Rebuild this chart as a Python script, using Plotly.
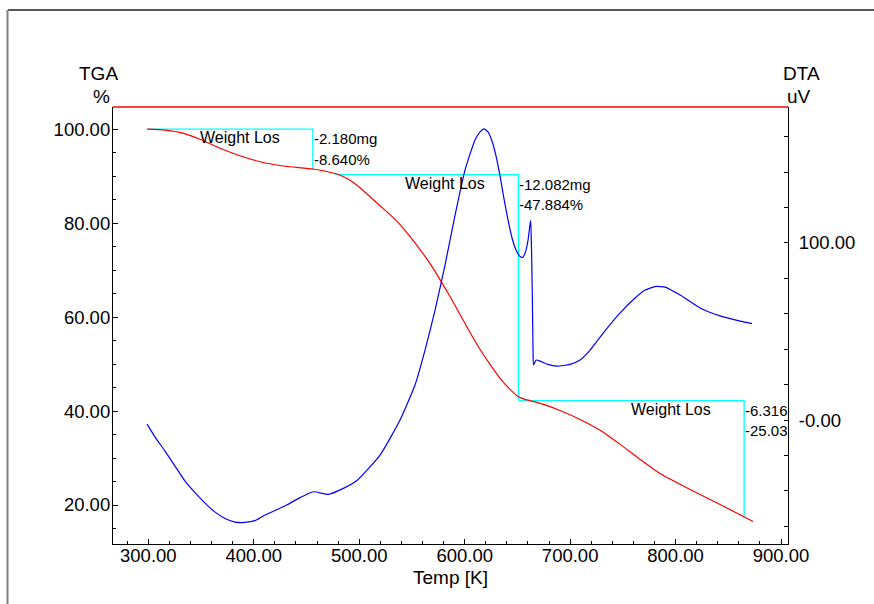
import plotly.graph_objects as go

# ---- data ----
tga_temp = [298.8, 315.8, 332.9, 349.0, 368.0, 386.9, 405.9, 429.6, 456.2, 475.1, 481.8, 491.3,
            500.7, 510.2, 519.7, 529.2, 538.7, 548.2, 557.7, 567.2, 576.6, 586.1, 595.6,
            605.1, 614.6, 624.1, 633.5, 643.0, 650.6, 657.2, 666.7, 676.2, 690.4, 709.4,
            728.4, 747.4, 766.4, 785.3, 813.7, 842.2, 873.5]
tga_pct = [100.0, 99.79, 99.15, 97.83, 95.92, 94.33, 93.05, 92.09, 91.50, 90.65, 90.18, 89.12,
           87.52, 85.61, 83.70, 81.79, 79.66, 77.11, 74.35, 71.37, 67.97, 64.36, 60.53,
           56.71, 53.10, 49.91, 46.94, 44.60, 43.11, 42.48, 41.93, 41.3, 40.1, 38.2,
           35.9, 32.9, 29.7, 26.7, 23.3, 20.1, 16.5]

dta_temp = [298.8, 306.4, 315.8, 325.3, 334.8, 344.3, 353.8, 363.3, 372.8, 382.2, 391.7, 401.2,
            409.1, 431.2, 443.9, 456.5,
            470.7, 484.9, 497.6, 519.7, 538.7, 552.9, 562.4, 571.9, 581.4, 590.9, 600.3,
            609.8, 614.6, 618.3, 622.1, 625.9, 629.7, 633.5, 637.3, 641.1, 644.9, 648.7,
            652.5, 654.9, 657.7, 660.1, 662.0, 662.6, 663.4, 664.2, 664.8, 665.3, 667.7,
            671.5, 679.0, 687.6, 699.9, 709.4, 718.9, 728.4, 747.4, 761.6, 771.1, 780.6,
            790.1, 804.3, 823.3, 842.2, 861.2, 872.5]
dta_uv = [-2.3, -9.6, -17.5, -26.0, -34.5, -41.0, -46.9, -52.0, -55.6, -57.6, -57.8, -56.8,
          -54.2, -48.0, -43.8, -40.5,
          -42.0, -38.6, -34.3, -19.8, 0.0, 19.8, 39.5, 62.1, 87.6, 115.8, 141.2,
          158.2, 162.8, 164.4, 162.7, 157.6, 149.2, 137.9, 124.9, 113.0, 102.8, 96.0,
          92.4, 91.9, 94.9, 101.7, 110.7, 112.6, 96.0, 67.8, 39.5, 31.1, 33.9,
          33.3, 31.4, 30.5, 31.4, 33.9, 39.5, 46.9, 60.5, 68.9, 73.4, 75.4,
          75.1, 70.6, 63.3, 58.8, 55.9, 54.5]

# weight-loss steps
step_start_temp = [300, 477, 651]
step_end_temp = [456, 651, 865]
step_start_level = [100.0, 90.3, 42.2]
step_loss_pct = [8.64, 47.88, 25.03]
step_mg_text = ["-2.180mg", "-12.082mg", "-6.316"]
step_pct_text = ["-8.640%", "-47.884%", "-25.03"]
step_label = "Weight Los"

x_ticks = [300, 400, 500, 600, 700, 800, 900]
left_ticks = [20, 40, 60, 80, 100]
right_tickvals = [-60, -40, -20, 0, 20, 40, 60, 80, 100, 120, 140, 160]
right_ticktext = ["", "", "", "-0.00", "", "", "", "", "100.00", "", "", ""]

FONT = "Liberation Sans, Arial, Helvetica, sans-serif"

fig = go.Figure()

# cyan step markers
for i in range(3):
    end_level = step_start_level[i] - step_loss_pct[i]
    fig.add_trace(go.Scatter(
        x=[step_start_temp[i], step_end_temp[i], step_end_temp[i]],
        y=[step_start_level[i], step_start_level[i], end_level],
        mode="lines", line=dict(color="#00ffff", width=1.3),
        hoverinfo="skip", showlegend=False, cliponaxis=False))

fig.add_trace(go.Scatter(x=tga_temp, y=tga_pct, mode="lines",
                         line=dict(color="#ff0000", width=1.2, shape="spline", smoothing=0.5),
                         showlegend=False))
fig.add_trace(go.Scatter(x=dta_temp, y=dta_uv, mode="lines", yaxis="y2",
                         line=dict(color="#0000ff", width=1.2, shape="spline", smoothing=0.5),
                         showlegend=False))

ann = []
for i in range(3):
    lvl = step_start_level[i]
    ann.append(dict(x=step_end_temp[i], y=lvl, xref="x", yref="y", text=step_label,
                    showarrow=False, xanchor="right", yanchor="middle", xshift=-31, yshift=-8.5,
                    font=dict(family=FONT, size=16, color="#000000")))
    ann.append(dict(x=step_end_temp[i], y=lvl, xref="x", yref="y", text=step_mg_text[i],
                    showarrow=False, xanchor="left", yanchor="middle", xshift=-1, yshift=-9.5,
                    font=dict(family=FONT, size=15, color="#000000")))
    ann.append(dict(x=step_end_temp[i], y=lvl, xref="x", yref="y", text=step_pct_text[i],
                    showarrow=False, xanchor="left", yanchor="middle", xshift=-1, yshift=-30,
                    font=dict(family=FONT, size=15, color="#000000")))

title_font = dict(family=FONT, size=19, color="#000000")
ann += [
    dict(x=-0.0222, y=1.0778, xref="paper", yref="paper", text="TGA", showarrow=False,
         xanchor="center", yanchor="middle", font=title_font),
    dict(x=-0.0163, y=1.0229, xref="paper", yref="paper", text="%", showarrow=False,
         xanchor="center", yanchor="middle", font=title_font),
    dict(x=1.0193, y=1.0778, xref="paper", yref="paper", text="DTA", showarrow=False,
         xanchor="center", yanchor="middle", font=title_font),
    dict(x=1.0159, y=1.0229, xref="paper", yref="paper", text="uV", showarrow=False,
         xanchor="center", yanchor="middle", font=title_font),
    dict(x=0.5, y=-0.0778, xref="paper", yref="paper", text="Temp [K]", showarrow=False,
         xanchor="center", yanchor="middle", font=title_font),
]

shapes = [
    # red top frame of plot area
    dict(type="line", xref="paper", yref="paper", x0=0, x1=1, y0=1, y1=1,
         line=dict(color="#ff0000", width=1.3)),
    # outer window border
    dict(type="line", xref="paper", yref="paper", x0=-0.1556, x1=1.13, y0=1.222, y1=1.222,
         line=dict(color="#222222", width=1.5)),
    dict(type="line", xref="paper", yref="paper", x0=-0.1563, x1=-0.1563, y0=1.222, y1=-0.14,
         line=dict(color="#808080", width=2)),
]

tickfont = dict(family=FONT, size=18.5, color="#000000")

fig.update_layout(
    width=874, height=604,
    margin=dict(l=113, r=86, t=107, b=60),
    paper_bgcolor="white", plot_bgcolor="white",
    showlegend=False,
    annotations=ann, shapes=shapes,
    xaxis=dict(range=[266.5, 906.6], tickvals=x_ticks, tickformat=".2f",
               ticks="inside", ticklen=5, tickcolor="#000000", tickwidth=1,
               ticklabelstandoff=-5,
               minor=dict(dtick=20, tick0=0, ticks="inside", ticklen=3, tickcolor="#000000"),
               showline=True, linecolor="#000000", linewidth=1.2, showgrid=False,
               zeroline=False, tickfont=tickfont),
    yaxis=dict(range=[11.7, 104.7], tickvals=left_ticks, tickformat=".2f",
               ticks="inside", ticklen=5, tickcolor="#000000", tickwidth=1,
               ticklabelstandoff=-2,
               minor=dict(dtick=5, tick0=0, ticks="inside", ticklen=3, tickcolor="#000000"),
               showline=True, linecolor="#000000", linewidth=1.2, showgrid=False,
               zeroline=False, tickfont=tickfont),
    yaxis2=dict(range=[-70, 176.8], overlaying="y", side="right",
                tickmode="array", tickvals=right_tickvals, ticktext=right_ticktext,
                ticks="inside", ticklen=4, tickcolor="#000000", tickwidth=1,
                ticklabelstandoff=6,
                showline=True, linecolor="#000000", linewidth=1.2, showgrid=False,
                zeroline=False, tickfont=tickfont),
)

fig.write_html("out.html", config={"displayModeBar": False},
               post_script="document.body.style.margin='0';")
